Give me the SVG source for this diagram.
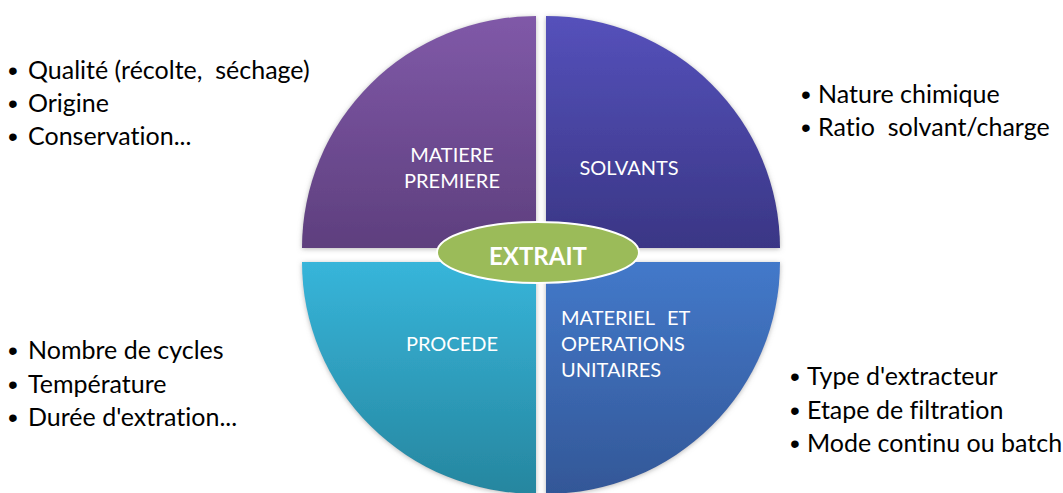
<svg xmlns="http://www.w3.org/2000/svg" width="1063" height="493" viewBox="0 0 1063 493">
<style>
text{font-variant-ligatures:none;white-space:pre}
.bul{font-family:Lato,"Liberation Sans",sans-serif;font-size:25px;fill:#000}
.dot{font-family:"Liberation Sans",sans-serif;font-size:28px;fill:#000}
.lab{font-family:Lato,"Liberation Sans",sans-serif;font-size:20px;fill:#fff}
.ext{font-family:Lato,"Liberation Sans",sans-serif;font-size:24px;font-weight:bold;fill:#fff}
</style>
<defs>
<linearGradient id="gTL" x1="0" y1="0" x2="0" y2="1"><stop offset="0" stop-color="#8059a8"/><stop offset="1" stop-color="#5e3f7e"/></linearGradient>
<linearGradient id="gTR" x1="0" y1="0" x2="0" y2="1"><stop offset="0" stop-color="#5551bb"/><stop offset="1" stop-color="#3a3685"/></linearGradient>
<linearGradient id="gBL" x1="0" y1="0" x2="0" y2="1"><stop offset="0" stop-color="#37b5da"/><stop offset="1" stop-color="#26869f"/></linearGradient>
<linearGradient id="gBR" x1="0" y1="0" x2="0" y2="1"><stop offset="0" stop-color="#4379ca"/><stop offset="1" stop-color="#335797"/></linearGradient>
<filter id="sh" x="-10%" y="-10%" width="120%" height="120%"><feDropShadow dx="0" dy="1" stdDeviation="2.5" flood-color="#888" flood-opacity="0.6"/></filter>
</defs>
<rect width="1063" height="493" fill="#fff"/>
<g id="matiere">
<path d="M536,248 L302,248 A234,232 0 0 1 536,16 Z" fill="url(#gTL)" filter="url(#sh)"/>
<text class="lab" x="452" y="162" text-anchor="middle">MATIERE</text>
<text class="lab" x="452" y="188" text-anchor="middle">PREMIERE</text>
</g>
<g id="solvants">
<path d="M546,248 L546,16 A234,232 0 0 1 780,248 Z" fill="url(#gTR)" filter="url(#sh)"/>
<text class="lab" x="629" y="175" text-anchor="middle">SOLVANTS</text>
</g>
<g id="procede">
<path d="M536,262 L536,494 A234,232 0 0 1 302,262 Z" fill="url(#gBL)" filter="url(#sh)"/>
<text class="lab" x="452" y="351" text-anchor="middle">PROCEDE</text>
</g>
<g id="materiel">
<path d="M546,262 L780,262 A234,232 0 0 1 546,494 Z" fill="url(#gBR)" filter="url(#sh)"/>
<text class="lab" x="561" y="325">MATERIEL</text>
<text class="lab" x="667" y="325">ET</text>
<text class="lab" x="561" y="351">OPERATIONS</text>
<text class="lab" x="561" y="377">UNITAIRES</text>
</g>
<g id="extrait">
<ellipse cx="538" cy="252.5" rx="101" ry="30.5" fill="#9bbb59" stroke="#fff" stroke-width="2"/>
<text class="ext" x="538" y="265" text-anchor="middle">EXTRAIT</text>
</g>
<g id="connectors"/>
<g id="notes-matiere">
<text class="dot" x="8" y="80">•</text><text class="bul" x="28" y="79">Qualité (récolte,  séchage)</text>
<text class="dot" x="8" y="113">•</text><text class="bul" x="28" y="112">Origine</text>
<text class="dot" x="8" y="146">•</text><text class="bul" x="28" y="145">Conservation...</text>
</g>
<g id="notes-solvants">
<text class="dot" x="801" y="104">•</text><text class="bul" x="818" y="103">Nature chimique</text>
<text class="dot" x="801" y="137">•</text><text class="bul" x="818" y="136">Ratio  solvant/charge</text>
</g>
<g id="notes-procede">
<text class="dot" x="8" y="360">•</text><text class="bul" x="28" y="359">Nombre de cycles</text>
<text class="dot" x="8" y="394">•</text><text class="bul" x="28" y="393">Température</text>
<text class="dot" x="8" y="427">•</text><text class="bul" x="28" y="426">Durée d'extration...</text>
</g>
<g id="notes-materiel">
<text class="dot" x="790" y="386">•</text><text class="bul" x="807" y="385">Type d'extracteur</text>
<text class="dot" x="790" y="420">•</text><text class="bul" x="807" y="419">Etape de filtration</text>
<text class="dot" x="790" y="453">•</text><text class="bul" x="807" y="452">Mode continu ou batch</text>
</g>
</svg>
